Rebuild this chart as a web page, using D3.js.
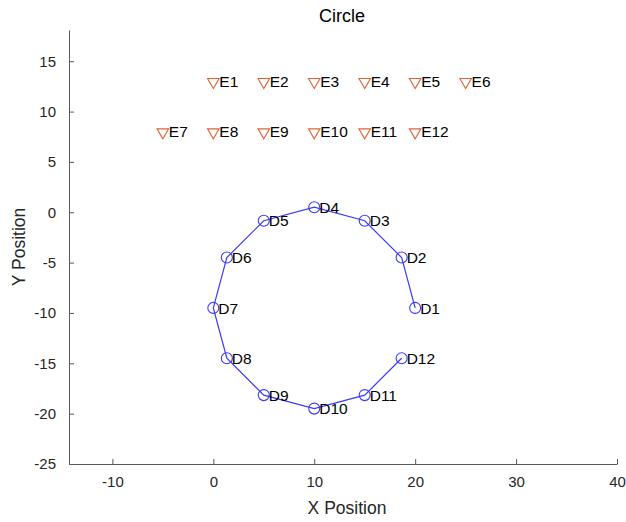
<!DOCTYPE html>
<html>
<head>
<meta charset="utf-8">
<script src="https://cdn.jsdelivr.net/npm/d3@7"></script>
<style>
  html, body { margin: 0; padding: 0; background: #fff; }
  svg { display: block; font-family: "Liberation Sans", Arial, Helvetica, sans-serif; }
</style>
</head>
<body>
<svg id="chart" width="626" height="522"></svg>
<script>
// Detector positions arranged on a ring (joined by a line)
const dLabels = ["D1","D2","D3","D4","D5","D6","D7","D8","D9","D10","D11","D12"];
const dX = [20, 18.66, 15, 10, 5, 1.34, 0, 1.34, 5, 10, 15, 18.66];
const dY = [-9.5, -4.5, -0.84, 0.5, -0.84, -4.5, -9.5, -14.5, -18.16, -19.5, -18.16, -14.5];

// Emitter positions in two rows
const eLabels = ["E1","E2","E3","E4","E5","E6","E7","E8","E9","E10","E11","E12"];
const eX = [0, 5, 10, 15, 20, 25, -5, 0, 5, 10, 15, 20];
const eY = [13, 13, 13, 13, 13, 13, 8, 8, 8, 8, 8, 8];

const xTicks = [-10, 0, 10, 20, 30, 40];
const yTicks = [-25, -20, -15, -10, -5, 0, 5, 10, 15];
const xDomain = [-14.3, 40];
const yDomain = [-25, 18.1];

const svg = d3.select("#chart");
const plot = { left: 69, right: 617, top: 30, bottom: 464 };

const x = d3.scaleLinear().domain(xDomain).range([plot.left, plot.right]);
const y = d3.scaleLinear().domain(yDomain).range([plot.bottom, plot.top]);

const axisColor = "#5a5a5a";
const textColor = "#262626";
const plain = v => String(v); // hyphen-minus for negatives

// Axes with inward ticks
const xAxis = svg.append("g")
  .attr("transform", `translate(0,${plot.bottom})`)
  .call(d3.axisBottom(x).tickValues(xTicks).tickFormat(plain)
    .tickSizeInner(-5).tickSizeOuter(0).tickPadding(12));
const yAxis = svg.append("g")
  .attr("transform", `translate(${plot.left},0)`)
  .call(d3.axisLeft(y).tickValues(yTicks).tickFormat(plain)
    .tickSizeInner(-5).tickSizeOuter(0).tickPadding(13));

[xAxis, yAxis].forEach(g => {
  g.select(".domain").attr("stroke", axisColor).attr("stroke-width", 1);
  g.selectAll(".tick line").attr("stroke", axisColor);
  g.selectAll(".tick text").attr("fill", textColor).style("font-size", "15px")
    .style("font-family", "'Liberation Sans', Arial, sans-serif");
});

// Title and axis labels
svg.append("text").attr("x", (plot.left + plot.right) / 2 - 1).attr("y", 22)
  .attr("text-anchor", "middle").attr("fill", "#000").style("font-size", "18px").text("Circle");
svg.append("text").attr("x", (plot.left + plot.right) / 2 + 4).attr("y", 514)
  .attr("text-anchor", "middle").attr("fill", textColor).style("font-size", "17.5px").text("X Position");
svg.append("text")
  .attr("transform", `translate(25,${(plot.top + plot.bottom) / 2}) rotate(-90)`)
  .attr("text-anchor", "middle").attr("fill", textColor).style("font-size", "17.5px").text("Y Position");

// Detector ring
const dData = dLabels.map((l, i) => ({ label: l, x: dX[i], y: dY[i] }));
const blue = "#3a3aff";
svg.append("path")
  .datum(dData)
  .attr("fill", "none").attr("stroke", blue).attr("stroke-width", 1.2)
  .attr("d", d3.line().x(d => x(d.x)).y(d => y(d.y)));
svg.append("g").selectAll("circle").data(dData).join("circle")
  .attr("cx", d => x(d.x)).attr("cy", d => y(d.y)).attr("r", 5.5)
  .attr("fill", "none").attr("stroke", blue).attr("stroke-width", 1.1);
svg.append("g").selectAll("text").data(dData).join("text")
  .attr("x", d => x(d.x) + 5).attr("y", d => y(d.y)).attr("dy", "0.36em")
  .attr("fill", "#000").style("font-size", "15.5px").text(d => d.label);

// Emitters
const eData = eLabels.map((l, i) => ({ label: l, x: eX[i], y: eY[i] }));
const orange = "#e0643a";
const tri = d3.symbol().type(d3.symbolTriangle).size(58);
svg.append("g").selectAll("path").data(eData).join("path")
  .attr("transform", d => `translate(${x(d.x)},${y(d.y) + 0.5}) rotate(180)`)
  .attr("d", tri).attr("fill", "none").attr("stroke", orange).attr("stroke-width", 1.1);
svg.append("g").selectAll("text").data(eData).join("text")
  .attr("x", d => x(d.x) + 6).attr("y", d => y(d.y)).attr("dy", "0.36em")
  .attr("fill", "#000").style("font-size", "15.5px").text(d => d.label);
</script>
</body>
</html>
